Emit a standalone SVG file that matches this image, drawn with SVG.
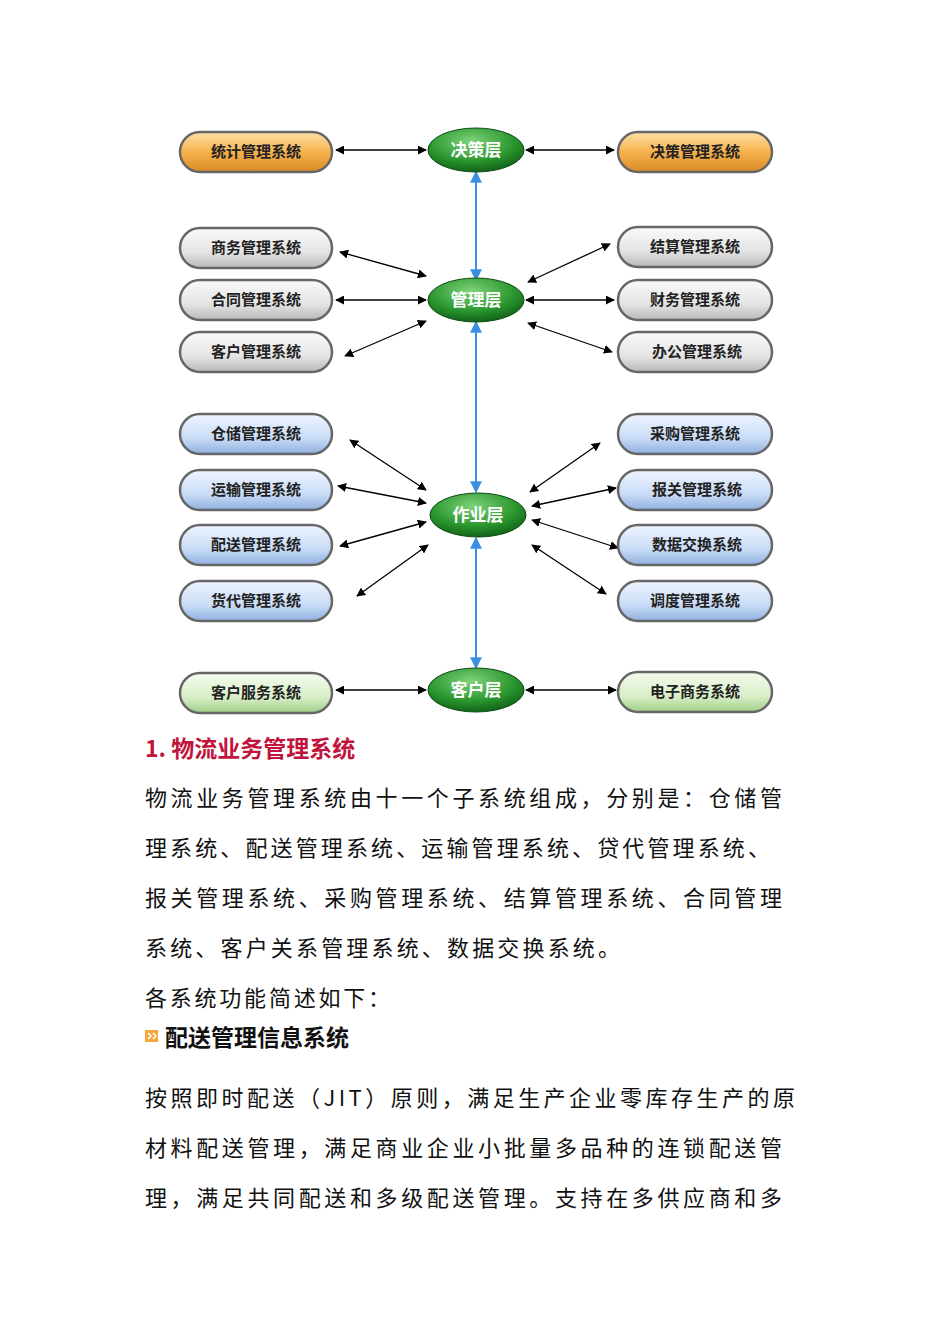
<svg xmlns="http://www.w3.org/2000/svg" width="950" height="1344" viewBox="0 0 950 1344">
<defs>
<linearGradient id="gO" x1="0" y1="0" x2="0" y2="1"><stop offset="0" stop-color="#fde0a8"/><stop offset="0.5" stop-color="#f6b24e"/><stop offset="1" stop-color="#d98a24"/></linearGradient>
<linearGradient id="gG" x1="0" y1="0" x2="0" y2="1"><stop offset="0" stop-color="#fafafa"/><stop offset="0.6" stop-color="#e4e4e4"/><stop offset="1" stop-color="#b8b8b8"/></linearGradient>
<linearGradient id="gB" x1="0" y1="0" x2="0" y2="1"><stop offset="0" stop-color="#eef4ff"/><stop offset="0.6" stop-color="#c9dcf6"/><stop offset="1" stop-color="#8fb0e0"/></linearGradient>
<linearGradient id="gL" x1="0" y1="0" x2="0" y2="1"><stop offset="0" stop-color="#f4fbee"/><stop offset="0.6" stop-color="#d9efc8"/><stop offset="1" stop-color="#9fcf88"/></linearGradient>
<radialGradient id="gE" cx="0.45" cy="0.3" r="0.75"><stop offset="0" stop-color="#7fd37a"/><stop offset="0.6" stop-color="#2a962e"/><stop offset="1" stop-color="#0d5a14"/></radialGradient>
<marker id="ah" viewBox="0 0 10 10" refX="9" refY="5" markerWidth="9" markerHeight="9" orient="auto-start-reverse" markerUnits="userSpaceOnUse"><path d="M0,0 L10,5 L0,10 z" fill="#000"/></marker>
<marker id="bh" viewBox="0 0 10 10" refX="9" refY="5" markerWidth="12" markerHeight="12" orient="auto-start-reverse" markerUnits="userSpaceOnUse"><path d="M0,0 L10,5 L0,10 z" fill="#3a8fe0"/></marker>
</defs>
<style>
.pill{stroke:#666;stroke-width:2.5}
.pt{font-family:"Noto Sans CJK SC",sans-serif;font-weight:bold;font-size:15px;fill:#222;text-anchor:middle}
.et{font-family:"Noto Sans CJK SC",sans-serif;font-weight:bold;font-size:17px;fill:#fff;text-anchor:middle}
.c{stroke:#000;stroke-width:1.3;fill:none;marker-start:url(#ah);marker-end:url(#ah)}
.b{stroke:#3a8fe0;stroke-width:2;fill:none;marker-start:url(#bh);marker-end:url(#bh)}
.tx{font-family:"Noto Sans CJK SC",sans-serif;font-size:22px;fill:#111}
</style>
<rect width="950" height="1344" fill="#fff"/>
<g id="connectors">
<line class="c" x1="336" y1="150" x2="426" y2="150"/><line class="c" x1="526" y1="150" x2="614" y2="150"/>
<line class="c" x1="340" y1="252" x2="426" y2="276"/><line class="c" x1="336" y1="300" x2="426" y2="300"/><line class="c" x1="345" y1="356" x2="426" y2="321"/>
<line class="c" x1="528" y1="282" x2="610" y2="244"/><line class="c" x1="526" y1="300" x2="614" y2="300"/><line class="c" x1="528" y1="323" x2="612" y2="352"/>
<line class="c" x1="350" y1="440" x2="426" y2="490"/><line class="c" x1="338" y1="486" x2="426" y2="503"/><line class="c" x1="340" y1="546" x2="426" y2="522"/><line class="c" x1="357" y1="596" x2="428" y2="545"/>
<line class="c" x1="600" y1="443" x2="530" y2="492"/><line class="c" x1="532" y1="506" x2="616" y2="488"/><line class="c" x1="532" y1="520" x2="618" y2="548"/><line class="c" x1="532" y1="545" x2="606" y2="594"/>
<line class="c" x1="336" y1="690" x2="426" y2="690"/><line class="c" x1="526" y1="690" x2="616" y2="690"/>
<line class="b" x1="476" y1="172" x2="476" y2="280"/><line class="b" x1="476" y1="322" x2="476" y2="492"/><line class="b" x1="476" y1="538" x2="476" y2="668"/>
</g>
<g id="layers">
<g id="n-juece"><ellipse cx="476" cy="150" rx="48" ry="22" fill="url(#gE)" stroke="#0a4a10"/><text class="et" x="476" y="156">决策层</text></g>
<g id="n-guanli"><ellipse cx="476" cy="300" rx="48" ry="22" fill="url(#gE)" stroke="#0a4a10"/><text class="et" x="476" y="306">管理层</text></g>
<g id="n-zuoye"><ellipse cx="478" cy="515" rx="48" ry="22" fill="url(#gE)" stroke="#0a4a10"/><text class="et" x="478" y="521">作业层</text></g>
<g id="n-kehu"><ellipse cx="476" cy="690" rx="48" ry="22" fill="url(#gE)" stroke="#0a4a10"/><text class="et" x="476" y="696">客户层</text></g>
</g>
<g id="pills">
<g id="p1"><rect class="pill" x="180" y="132" width="152" height="40" rx="20" fill="url(#gO)" stroke="#b06a10"/><text class="pt" x="256" y="157">统计管理系统</text></g>
<g id="p2"><rect class="pill" x="618" y="132" width="154" height="40" rx="20" fill="url(#gO)" stroke="#b06a10"/><text class="pt" x="695" y="157">决策管理系统</text></g>
<g id="p3"><rect class="pill" x="180" y="228" width="152" height="40" rx="20" fill="url(#gG)"/><text class="pt" x="256" y="253">商务管理系统</text></g>
<g id="p4"><rect class="pill" x="180" y="280" width="152" height="40" rx="20" fill="url(#gG)"/><text class="pt" x="256" y="305">合同管理系统</text></g>
<g id="p5"><rect class="pill" x="180" y="332" width="152" height="40" rx="20" fill="url(#gG)"/><text class="pt" x="256" y="357">客户管理系统</text></g>
<g id="p6"><rect class="pill" x="618" y="227" width="154" height="40" rx="20" fill="url(#gG)"/><text class="pt" x="695" y="252">结算管理系统</text></g>
<g id="p7"><rect class="pill" x="618" y="280" width="154" height="40" rx="20" fill="url(#gG)"/><text class="pt" x="695" y="305">财务管理系统</text></g>
<g id="p8"><rect class="pill" x="618" y="332" width="154" height="40" rx="20" fill="url(#gG)"/><text class="pt" x="697" y="357">办公管理系统</text></g>
<g id="p9"><rect class="pill" x="180" y="414" width="152" height="40" rx="20" fill="url(#gB)" stroke="#3a5a8a"/><text class="pt" x="256" y="439">仓储管理系统</text></g>
<g id="p10"><rect class="pill" x="180" y="470" width="152" height="40" rx="20" fill="url(#gB)" stroke="#3a5a8a"/><text class="pt" x="256" y="495">运输管理系统</text></g>
<g id="p11"><rect class="pill" x="180" y="525" width="152" height="40" rx="20" fill="url(#gB)" stroke="#3a5a8a"/><text class="pt" x="256" y="550">配送管理系统</text></g>
<g id="p12"><rect class="pill" x="180" y="581" width="152" height="40" rx="20" fill="url(#gB)" stroke="#3a5a8a"/><text class="pt" x="256" y="606">货代管理系统</text></g>
<g id="p13"><rect class="pill" x="618" y="414" width="154" height="40" rx="20" fill="url(#gB)" stroke="#3a5a8a"/><text class="pt" x="695" y="439">采购管理系统</text></g>
<g id="p14"><rect class="pill" x="618" y="470" width="154" height="40" rx="20" fill="url(#gB)" stroke="#3a5a8a"/><text class="pt" x="697" y="495">报关管理系统</text></g>
<g id="p15"><rect class="pill" x="618" y="525" width="154" height="40" rx="20" fill="url(#gB)" stroke="#3a5a8a"/><text class="pt" x="697" y="550">数据交换系统</text></g>
<g id="p16"><rect class="pill" x="618" y="581" width="154" height="40" rx="20" fill="url(#gB)" stroke="#3a5a8a"/><text class="pt" x="695" y="606">调度管理系统</text></g>
<g id="p17"><rect class="pill" x="180" y="673" width="152" height="40" rx="20" fill="url(#gL)" stroke="#4a7a3a"/><text class="pt" x="256" y="698">客户服务系统</text></g>
<g id="p18"><rect class="pill" x="618" y="672" width="154" height="40" rx="20" fill="url(#gL)" stroke="#4a7a3a"/><text class="pt" x="695" y="697">电子商务系统</text></g>
</g>
<g id="text">
<text x="145" y="757" font-family="Noto Sans CJK SC,sans-serif" font-size="23" font-weight="bold" fill="#c0143c">1. 物流业务管理系统</text>
<text class="tx" x="145" y="806" textLength="637" lengthAdjust="spacing">物流业务管理系统由十一个子系统组成，分别是：仓储管</text>
<text class="tx" x="145" y="856" textLength="625" lengthAdjust="spacing">理系统、配送管理系统、运输管理系统、贷代管理系统、</text>
<text class="tx" x="145" y="906" textLength="637" lengthAdjust="spacing">报关管理系统、采购管理系统、结算管理系统、合同管理</text>
<text class="tx" x="145" y="956" textLength="475" lengthAdjust="spacing">系统、客户关系管理系统、数据交换系统。</text>
<text class="tx" x="145" y="1006" textLength="245" lengthAdjust="spacing">各系统功能简述如下：</text>
<g id="bullet"><rect x="145" y="1030" width="13" height="12" fill="#f2a93b"/><path d="M148,1033 l3,3 -3,3 M153,1033 l3,3 -3,3" stroke="#fff" stroke-width="1.5" fill="none"/></g>
<text x="165" y="1046" font-family="Noto Sans CJK SC,sans-serif" font-size="23" font-weight="bold" fill="#111">配送管理信息系统</text>
<text class="tx" x="145" y="1106" textLength="650" lengthAdjust="spacing">按照即时配送（JIT）原则，满足生产企业零库存生产的原</text>
<text class="tx" x="145" y="1156" textLength="637" lengthAdjust="spacing">材料配送管理，满足商业企业小批量多品种的连锁配送管</text>
<text class="tx" x="145" y="1206" textLength="637" lengthAdjust="spacing">理，满足共同配送和多级配送管理。支持在多供应商和多</text>
</g>
</svg>
